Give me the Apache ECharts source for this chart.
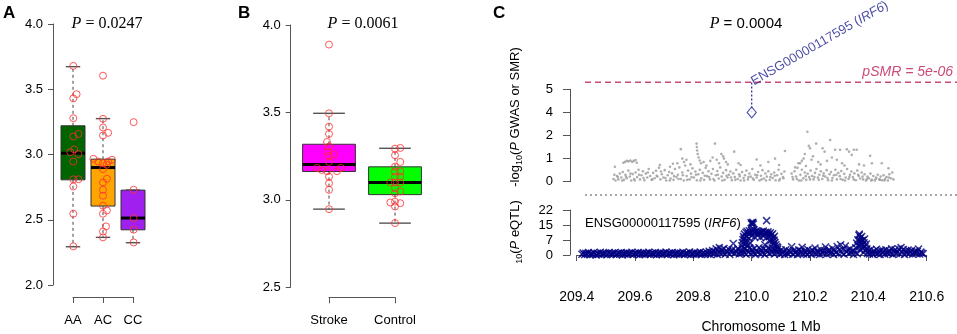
<!DOCTYPE html>
<html>
<head>
<meta charset="utf-8">
<script src="https://cdn.jsdelivr.net/npm/echarts@6/dist/echarts.min.js"></script>
<style>
  html, body { margin: 0; padding: 0; background: #fff; }
  #chart { width: 957px; height: 334px; }
</style>
</head>
<body>
<div id="chart"></div>
<script>
// ---- Panel A: genotype groups ----
const genoCats = ['AA', 'AC', 'CC'];
// [group, min, Q1, median, Q3, max]
const genoBoxes = [
  [1, 2.293, 2.806, 3.010, 3.220, 3.673],
  [2, 2.365, 2.605, 2.900, 2.964, 3.275],
  [3, 2.324, 2.423, 2.513, 2.727, 2.727]
];
const genoColors = ['#006400', '#ffa500', '#a020f0'];
const genoPoints = [
  [1.01, 3.679], [1.12, 3.462], [1.01, 3.430], [1.01, 3.278], [1.18, 3.158], [1.01, 3.138],
  [1.04, 3.040], [0.91, 3.018], [1.18, 3.003], [1.01, 2.946], [1.01, 2.810], [1.18, 2.810],
  [1.01, 2.755], [1.01, 2.546], [1.01, 2.296],
  [2.00, 3.604], [2.00, 3.273], [2.00, 3.207], [2.17, 3.166], [2.00, 3.146], [1.68, 2.967],
  [1.84, 2.946], [2.00, 2.934], [2.17, 2.946], [2.30, 2.960], [2.12, 2.921], [2.00, 2.888],
  [2.13, 2.814], [2.00, 2.786], [2.00, 2.730], [2.00, 2.684], [2.00, 2.607], [2.13, 2.571],
  [2.00, 2.546], [2.10, 2.449], [2.00, 2.410], [2.00, 2.365],
  [3.02, 3.248], [3.02, 2.730], [3.02, 2.513], [3.02, 2.424], [3.02, 2.326]
];
const genoP = '0.0247';

// ---- Panel B: stroke vs control ----
const groupCats = ['Stroke', 'Control'];
const groupBoxes = [
  [1, 2.947, 3.162, 3.202, 3.318, 3.495],
  [2, 2.867, 3.030, 3.099, 3.189, 3.295]
];
const groupColors = ['#ff00ff', '#00ff00'];
const groupPoints = [
  [1.00, 3.888], [1.00, 3.495], [1.00, 3.419], [1.00, 3.377], [0.97, 3.331], [1.00, 3.305],
  [0.98, 3.276], [1.08, 3.259], [1.00, 3.251], [1.00, 3.217], [0.82, 3.183], [0.89, 3.171],
  [1.18, 3.183], [0.97, 3.164], [1.12, 3.164], [1.00, 3.133], [1.00, 3.095], [1.00, 3.057],
  [1.00, 2.947],
  [2.08, 3.297], [2.00, 3.293], [2.00, 3.255], [2.08, 3.217], [2.00, 3.190], [2.00, 3.162],
  [2.08, 3.162], [2.00, 3.133], [2.08, 3.133], [1.93, 3.099], [2.00, 3.099], [2.08, 3.099],
  [2.00, 3.067], [2.08, 3.048], [2.00, 3.038], [2.00, 2.990], [1.93, 2.985], [2.08, 2.981],
  [2.00, 2.962], [2.00, 2.867]
];
const groupP = '0.0061';

// ---- Panel C: SMR locus plot ----
const smrP = '0.0004';
const gwasTicks = ['0', '1', '2', '4', '5'];   // broken axis: 2..4 squeezed into one step
const smrThreshold = 5e-06;
const probeName = 'ENSG00000117595';
const probeGene = 'IRF6';
const probeSmr = [210.0, 4.0];                   // [Mb, -log10 P SMR]
// GWAS -log10 P, [Mb, value]
const gwasPoints = [
  [209.526,0.12],[209.531,0.65],[209.533,0.05],[209.538,0.25],[209.543,0.10],[209.548,0.35],[209.553,0.18],
  [209.558,0.42],[209.562,0.08],[209.567,0.30],[209.572,0.15],[209.577,0.48],[209.582,0.22],[209.587,0.05],
  [209.592,0.33],[209.597,0.12],[209.602,0.40],[209.607,0.20],[209.612,0.52],[209.617,0.10],[209.622,0.28],
  [209.627,0.45],[209.632,0.06],[209.637,0.35],[209.642,0.18],[209.647,0.55],[209.652,0.25],[209.657,0.08],
  [209.662,0.38],[209.667,0.15],[209.672,0.47],[209.677,0.22],[209.682,0.60],[209.687,0.10],[209.692,0.32],
  [209.697,0.18],[209.702,0.50],[209.707,0.05],[209.712,0.28],[209.717,0.42],[209.722,0.14],[209.727,0.36],
  [209.732,0.08],[209.737,0.55],[209.742,0.20],[209.747,0.30],[209.752,0.62],[209.757,0.12],[209.762,0.40],
  [209.767,0.05],[209.772,0.70],[209.777,0.25],[209.782,0.48],[209.787,0.10],[209.792,0.35],[209.797,0.58],
  [209.802,0.18],[209.807,0.44],[209.812,0.06],[209.817,0.32],[209.822,0.52],[209.827,0.15],[209.832,0.38],
  [209.837,0.08],[209.842,0.60],[209.847,0.24],[209.852,0.45],[209.857,0.10],[209.862,0.34],[209.867,0.55],
  [209.872,0.05],[209.877,0.28],[209.882,0.46],[209.887,0.14],[209.892,0.62],[209.897,0.22],[209.902,0.38],
  [209.907,0.08],[209.912,0.50],[209.917,0.18],[209.922,0.30],[209.927,0.44],[209.932,0.06],[209.937,0.36],
  [209.942,0.20],[209.947,0.52],[209.952,0.12],[209.957,0.32],[209.962,0.05],[209.967,0.42],[209.972,0.16],
  [209.977,0.28],[209.982,0.48],[209.987,0.10],[209.992,0.35],[209.997,0.22],[210.002,0.55],[210.007,0.08],
  [210.012,0.30],[210.017,0.18],[210.022,0.42],[210.027,0.05],[210.032,0.26],[210.037,0.50],[210.042,0.14],
  [210.047,0.36],[210.052,0.22],[210.057,0.45],[210.062,0.08],[210.067,0.32],[210.072,0.16],[210.077,0.40],
  [210.082,0.06],[210.087,0.28],[210.092,0.52],[210.097,0.12],[210.102,0.34],[210.107,0.20],[210.112,0.44],
  [210.137,0.35],[210.142,0.10],[210.147,0.45],[210.152,0.22],[210.157,0.60],[210.162,0.05],[210.167,0.30],
  [210.172,0.52],[210.177,0.15],[210.182,0.40],[210.187,0.08],[210.192,0.34],[210.197,0.20],[210.202,0.48],
  [210.207,0.25],[210.212,0.10],[210.217,0.38],[210.222,0.55],[210.227,0.18],[210.232,0.30],[210.237,0.45],
  [210.242,0.12],[210.247,0.36],[210.252,0.22],[210.257,0.50],[210.262,0.06],[210.267,0.32],[210.272,0.42],
  [210.277,0.16],[210.282,0.28],[210.287,0.52],[210.292,0.10],[210.297,0.38],[210.302,0.24],[210.307,0.46],
  [210.312,0.08],[210.317,0.34],[210.322,0.18],[210.327,0.55],[210.332,0.12],[210.337,0.30],[210.342,0.44],
  [210.347,0.20],[210.352,0.36],[210.357,0.06],[210.362,0.48],[210.367,0.25],[210.372,0.14],[210.377,0.40],
  [210.382,0.10],[210.387,0.32],[210.392,0.05],[210.397,0.22],[210.402,0.15],[210.407,0.35],[210.412,0.08],
  [210.417,0.25],[210.422,0.05],[210.427,0.18],[210.432,0.30],[210.437,0.10],[210.442,0.22],[210.447,0.06],
  [210.452,0.28],[210.457,0.12],[210.462,0.20],[210.467,0.05],[210.472,0.32],[210.477,0.15],[210.482,0.40],
  [210.486,0.10],
  [209.529,0.30],[209.541,0.20],[209.556,0.05],[209.569,0.22],[209.584,0.35],[209.599,0.05],[209.614,0.30],
  [209.629,0.16],[209.644,0.40],[209.659,0.10],[209.674,0.26],[209.689,0.44],[209.704,0.16],[209.719,0.05],
  [209.734,0.24],[209.749,0.12],[209.764,0.28],[209.779,0.08],[209.794,0.20],[209.809,0.30],[209.824,0.05],
  [209.839,0.26],[209.854,0.20],[209.869,0.12],[209.884,0.30],[209.899,0.05],[209.914,0.26],[209.929,0.18],
  [209.944,0.08],[209.959,0.24],[209.974,0.05],[209.989,0.20],[210.004,0.14],[210.019,0.28],[210.034,0.10],
  [210.049,0.05],[210.064,0.20],[210.079,0.26],[210.094,0.05],[210.109,0.15],[210.140,0.20],[210.155,0.12],
  [210.170,0.05],[210.185,0.24],[210.200,0.10],[210.215,0.20],[210.230,0.08],[210.245,0.26],[210.260,0.16],
  [210.275,0.05],[210.290,0.30],[210.305,0.12],[210.320,0.05],[210.335,0.20],[210.350,0.10],[210.365,0.30],
  [210.380,0.22],[210.395,0.12],[210.410,0.05],[210.425,0.12],[210.440,0.08],[210.455,0.05],[210.470,0.18],
  [209.560,0.82],[209.566,0.86],[209.572,0.90],[209.578,0.88],[209.584,0.92],[209.590,0.86],[209.596,0.90],
  [209.602,0.94],[209.606,0.82],[209.685,0.72],[209.720,0.65],[209.730,0.78],[209.745,0.80],[209.757,1.41],
  [209.762,1.00],[209.768,0.85],[209.776,0.95],[209.790,0.75],[209.811,1.65],[209.812,1.50],[209.813,1.35],
  [209.815,1.20],[209.818,1.05],[209.822,0.92],[209.826,0.80],[209.835,0.85],[209.845,0.70],[209.858,0.90],
  [209.866,1.05],[209.874,1.65],[209.880,0.95],[209.888,0.80],[209.896,1.20],[209.902,1.10],[209.905,1.00],
  [209.912,0.85],[209.918,0.75],[209.940,1.30],[209.955,0.80],[209.962,0.72],[210.017,0.96],[210.030,0.70],
  [210.057,0.85],[210.080,1.00],[210.094,0.72],[210.114,1.33],[210.149,0.62],[210.160,0.80],[210.166,0.80],
  [210.172,0.90],[210.178,1.00],[210.182,1.20],[210.186,0.68],[210.191,2.32],[210.196,1.55],[210.200,1.45],
  [210.205,0.95],[210.210,1.10],[210.221,1.65],[210.228,0.85],[210.236,0.75],[210.243,1.45],[210.250,1.30],
  [210.258,0.90],[210.269,1.80],[210.275,1.05],[210.286,1.38],[210.292,0.95],[210.303,1.38],[210.310,0.80],
  [210.318,0.70],[210.326,1.40],[210.334,1.30],[210.343,1.16],[210.350,1.38],[210.360,1.38],[210.368,0.75],
  [210.385,0.70],[210.406,1.12],[210.412,0.80],[210.446,0.80],[210.469,0.58]
];
const eqtlTickMax = 22;
// eQTL -log10 P, [Mb, value]
const eqtlPoints = [
  [209.418,0.4],[209.422,1.0],[209.427,0.2],[209.431,0.8],[209.436,0.5],[209.440,1.2],[209.445,0.1],[209.449,0.7],
  [209.454,0.3],[209.458,1.1],[209.463,0.6],[209.467,0.0],[209.472,0.9],[209.476,0.4],[209.481,1.3],[209.485,0.2],
  [209.490,0.8],[209.494,0.5],[209.499,1.0],[209.503,0.1],[209.508,0.7],[209.512,1.2],[209.517,0.3],[209.521,0.9],
  [209.526,0.5],[209.530,1.1],[209.535,0.2],[209.539,0.6],[209.544,1.0],[209.548,0.4],[209.553,1.2],[209.557,0.0],
  [209.562,0.8],[209.566,0.5],[209.571,1.1],[209.575,0.3],[209.580,0.9],[209.584,0.6],[209.589,1.3],[209.593,0.2],
  [209.598,0.7],[209.602,1.0],[209.607,0.4],[209.611,1.2],[209.616,0.1],[209.620,0.8],[209.625,0.5],[209.629,1.1],
  [209.634,0.3],[209.638,0.9],[209.643,0.6],[209.647,1.3],[209.652,0.2],[209.656,0.7],[209.661,1.0],[209.665,0.4],
  [209.670,1.2],[209.674,0.1],[209.679,0.8],[209.683,0.5],[209.688,1.1],[209.692,0.3],[209.697,0.9],[209.701,0.6],
  [209.706,1.4],[209.710,0.2],[209.715,0.7],[209.719,1.0],[209.724,0.4],[209.728,1.2],[209.733,0.1],[209.737,0.8],
  [209.742,0.5],[209.746,1.1],[209.751,0.3],[209.755,0.9],[209.760,0.6],[209.764,1.3],[209.769,0.2],[209.773,0.7],
  [209.778,1.0],[209.782,0.4],[209.787,1.5],[209.791,0.1],[209.796,0.8],[209.800,0.5],[209.805,1.2],[209.809,0.3],
  [209.814,0.9],[209.818,0.6],[209.823,1.4],[209.827,0.2],[209.832,0.7],[209.836,1.1],[209.841,0.4],[209.845,1.3],
  [209.850,0.5],[209.854,1.8],[209.858,0.2],[209.862,1.2],[209.866,2.2],[209.870,0.6],[209.874,1.5],[209.878,3.0],
  [209.882,0.3],[209.886,1.9],[209.889,3.6],[209.893,0.8],[209.897,2.4],[209.901,1.1],[209.905,3.2],[209.909,0.4],
  [209.913,2.0],[209.917,1.4],[209.921,2.8],[209.925,0.2],[209.929,1.7],[209.933,2.5],[209.937,5.6],[209.941,0.9],
  [209.945,2.1],[209.949,1.3],[209.953,3.0],[209.957,0.5],[209.961,1.8],
  [209.965,0.8],[209.969,2.5],[209.973,1.2],[209.977,3.0],[209.981,0.4],[209.985,2.2],[209.989,1.5],[209.993,3.4],
  [209.997,0.7],[210.001,2.6],[210.005,1.1],[210.009,3.2],[210.013,0.3],[210.017,2.0],[210.021,1.4],[210.025,3.5],
  [210.029,0.6],[210.033,2.4],[210.037,1.0],[210.041,3.1],[210.045,0.2],[210.049,2.2],[210.053,1.6],[210.057,3.4],
  [210.061,0.8],[210.065,2.7],[210.069,1.3],[210.073,3.0],[210.077,0.5],[210.081,2.3],[210.085,1.2],[210.089,2.8],
  [209.966,4.5],[209.968,6.0],[209.970,7.5],[209.972,9.0],[209.975,10.2],[209.978,5.2],[209.974,8.2],[209.980,11.0],
  [209.984,11.6],[209.988,10.6],[209.992,11.9],[209.996,10.9],[210.000,12.0],[210.004,11.2],[210.008,12.3],[210.012,11.0],
  [210.016,11.8],[210.020,10.8],[210.024,11.6],[210.028,10.5],[210.032,11.4],[210.036,10.9],[210.040,11.7],[210.044,10.4],
  [210.048,11.1],[210.052,10.6],[210.056,11.3],[210.060,10.2],[210.064,10.9],[210.068,9.8],[210.072,10.4],
  [209.984,9.0],[209.990,8.2],[210.000,9.3],[210.010,8.8],[210.020,9.5],[210.030,8.6],[210.040,9.2],[210.050,8.4],
  [210.060,8.9],[210.068,7.5],[210.074,8.6],[210.077,7.2],[210.080,6.0],[210.083,5.0],[210.086,4.2],[210.089,3.6],
  [210.078,9.2],[209.978,7.0],[209.982,6.0],[209.986,4.6],[210.070,6.4],[210.074,5.2],[210.062,6.8],[209.995,5.8],
  [210.045,5.0],[210.000,15.0],[210.004,16.0],[210.002,15.5],[209.998,15.8],[210.006,15.2],[210.051,16.8],
  [210.093,1.5],[210.097,0.3],[210.101,2.4],[210.105,0.9],[210.109,1.8],[210.113,0.2],[210.117,2.6],[210.121,1.1],
  [210.125,0.5],[210.129,2.0],[210.133,1.3],[210.137,4.0],[210.141,0.4],[210.145,2.2],[210.149,1.0],[210.153,1.7],
  [210.157,0.2],[210.161,2.5],[210.165,0.8],[210.169,1.9],[210.173,3.8],[210.177,0.5],[210.181,2.1],[210.185,1.2],
  [210.189,0.3],[210.193,2.7],[210.197,1.0],[210.201,1.8],[210.205,0.4],[210.209,2.3],[210.213,1.3],[210.217,3.4],
  [210.221,0.6],[210.225,2.0],[210.229,1.1],[210.233,0.2],[210.237,2.6],[210.241,1.5],[210.245,0.8],[210.249,2.2],
  [210.253,3.9],[210.257,0.4],[210.261,1.7],[210.265,2.5],[210.269,0.9],[210.273,1.4],[210.277,3.2],[210.281,0.3],
  [210.285,2.1],[210.289,1.2],[210.293,4.2],[210.297,0.6],[210.301,2.4],[210.305,5.0],[210.309,1.0],[210.313,2.8],
  [210.317,0.4],[210.321,4.4],[210.325,1.6],[210.329,2.3],[210.333,0.7],[210.337,3.0],[210.341,1.3],[210.345,2.0],
  [210.349,0.2],
  [210.353,1.8],[210.357,3.5],[210.360,5.8],[210.362,0.6],[210.364,7.4],[210.366,4.4],[210.368,9.6],[210.370,6.6],
  [210.371,2.5],[210.373,8.4],[210.375,5.3],[210.377,9.0],[210.379,3.4],[210.381,7.2],[210.383,1.2],[210.385,6.0],
  [210.387,7.8],[210.389,4.0],[210.391,2.2],[210.393,5.4],[210.395,3.0],[210.397,0.8],[210.369,10.2],[210.375,7.0],
  [210.380,5.0],
  [210.400,1.9],[210.404,0.5],[210.408,2.6],[210.412,1.2],[210.416,0.3],[210.420,2.0],[210.424,1.0],[210.428,2.8],
  [210.432,0.6],[210.436,1.7],[210.440,0.2],[210.444,2.3],[210.448,1.1],[210.452,1.9],[210.456,0.4],[210.460,2.5],
  [210.464,1.3],[210.468,0.7],[210.472,2.1],[210.476,1.0],[210.480,3.0],[210.484,0.3],[210.488,1.8],[210.492,2.6],
  [210.496,0.8],[210.500,1.5],[210.504,2.9],[210.508,0.5],[210.512,3.6],[210.516,1.4],[210.520,2.7],[210.524,0.2],
  [210.528,1.9],[210.532,1.0],[210.536,2.4],[210.540,0.6],[210.544,1.6],[210.548,2.2],[210.552,0.4],[210.556,1.3],
  [210.560,2.0],[210.564,0.8],[210.568,1.7],[210.572,2.9],[210.576,0.5],[210.580,1.4],[210.584,0.9],[210.588,0.6]
];

const SANS = '"Liberation Sans", Arial, sans-serif';
const SERIF = '"Liberation Serif", "Times New Roman", serif';
const AXIS_GREY = '#555';
const NAVY = '#000080';
const SMR_PINK = '#cc4a7a';

// the GWAS axis labels 0,1,2,4,5 sit on even steps, so 2..4 is squeezed into one step
function gwasPos(v) {
  if (v <= 2) return v;
  if (v <= 4) return 2 + (v - 2) / 2;
  return v - 1;
}

// R-style box: dashed whiskers, staples, filled box and a thick median
function renderBox(params, api) {
  const x = api.value(0);
  const lo = api.coord([x, api.value(1)]);
  const q1 = api.coord([x, api.value(2)]);
  const md = api.coord([x, api.value(3)]);
  const q3 = api.coord([x, api.value(4)]);
  const hi = api.coord([x, api.value(5)]);
  const w = api.size([0.8, 0])[0];
  const cx = lo[0];
  const s = w * 0.3;
  const dash = { stroke: '#444', lineWidth: 1, lineDash: [3, 3] };
  const staple = { stroke: '#555', lineWidth: 1.4 };
  return {
    type: 'group',
    children: [
      { type: 'line', shape: { x1: cx, y1: q3[1], x2: cx, y2: hi[1] }, style: dash },
      { type: 'line', shape: { x1: cx, y1: q1[1], x2: cx, y2: lo[1] }, style: dash },
      { type: 'line', shape: { x1: cx - s, y1: hi[1], x2: cx + s, y2: hi[1] }, style: staple },
      { type: 'line', shape: { x1: cx - s, y1: lo[1], x2: cx + s, y2: lo[1] }, style: staple },
      { type: 'rect', shape: { x: cx - w / 2, y: q3[1], width: w, height: q1[1] - q3[1] },
        style: { fill: api.visual('color'), stroke: '#333', lineWidth: 1 } },
      { type: 'line', shape: { x1: cx - w / 2, y1: md[1], x2: cx + w / 2, y2: md[1] },
        style: { stroke: '#000', lineWidth: 3 } }
    ]
  };
}

function boxSeries(boxes, colors, axisIdx) {
  return {
    type: 'custom',
    xAxisIndex: axisIdx, yAxisIndex: axisIdx,
    renderItem: renderBox,
    encode: { x: 0, y: [1, 2, 3, 4, 5] },
    data: boxes.map((b, i) => ({ value: b, itemStyle: { color: colors[i] } })),
    z: 2
  };
}

function pointSeries(points, axisIdx) {
  return {
    type: 'scatter',
    xAxisIndex: axisIdx, yAxisIndex: axisIdx,
    data: points,
    symbol: 'circle',
    symbolSize: 7,
    clip: false,
    itemStyle: { color: 'rgba(0,0,0,0)', borderColor: '#ff3030', borderWidth: 1 },
    z: 3
  };
}

function baseAxis(extra) {
  return Object.assign({
    type: 'value',
    axisLine: { show: true, lineStyle: { color: AXIS_GREY, width: 1 } },
    axisTick: { show: true, inside: false, length: 5, lineStyle: { color: AXIS_GREY } },
    axisLabel: { color: '#000', fontSize: 13, fontFamily: SANS },
    splitLine: { show: false }
  }, extra);
}

const chart = echarts.init(document.getElementById('chart'), null, { renderer: 'canvas' });

const thresholdPos = gwasPos(-Math.log10(smrThreshold));
const probePos = gwasPos(probeSmr[1]);
const smrLabel = 'pSMR = ' + smrThreshold.toExponential(0).replace(/e-(\d)$/, 'e-0$1');

// top C grid is wider than the axis (dashed lines run to the edge); keep the same Mb scale
const cAxisLeft = 576.7, cAxisWidth = 350, cMin = 209.4, cMax = 210.6;
const mbPerPx = (cMax - cMin) / cAxisWidth;
const topLeft = 585;
const topMin = cMin + (topLeft - cAxisLeft) * mbPerPx;
const topMax = cMin + (957 - cAxisLeft) * mbPerPx;

const option = {
  backgroundColor: '#fff',
  animation: false,
  textStyle: { fontFamily: SANS },
  grid: [
    { left: 73, top: 24, width: 60, height: 261, outerBoundsMode: 'none' },
    { left: 329, top: 25, width: 66, height: 262.3, outerBoundsMode: 'none' },
    { left: topLeft, top: 89.3, width: 957 - topLeft, height: 92.4, outerBoundsMode: 'none' },
    { left: cAxisLeft, top: 210, width: cAxisWidth, height: 45, outerBoundsMode: 'none' }
  ],
  xAxis: [
    baseAxis({ gridIndex: 0, min: 1, max: 3, interval: 1, offset: 12,
      axisTick: { show: true, length: 6, lineStyle: { color: AXIS_GREY } },
      axisLabel: { color: '#000', fontSize: 13, fontFamily: SANS, margin: 17,
        formatter: v => genoCats[Math.round(v) - 1] || '' } }),
    baseAxis({ gridIndex: 1, min: 1, max: 2, interval: 1, offset: 10,
      axisTick: { show: true, length: 6, lineStyle: { color: AXIS_GREY } },
      axisLabel: { color: '#000', fontSize: 13, fontFamily: SANS, margin: 17,
        formatter: v => groupCats[Math.round(v) - 1] || '' } }),
    { type: 'value', gridIndex: 2, show: false, min: topMin, max: topMax },
    baseAxis({ gridIndex: 3, min: cMin, max: cMax, interval: 0.2, offset: 16.7,
      axisTick: { show: true, length: 6, lineStyle: { color: AXIS_GREY } },
      axisLabel: { color: '#000', fontSize: 14, fontFamily: SANS, margin: 18,
        formatter: v => v.toFixed(1) } })
  ],
  yAxis: [
    baseAxis({ gridIndex: 0, min: 2, max: 4, interval: 0.5, offset: 20,
      axisLabel: { color: '#000', fontSize: 13, fontFamily: SANS, margin: 10, formatter: v => v.toFixed(1) } }),
    baseAxis({ gridIndex: 1, min: 2.5, max: 4, interval: 0.5, offset: 38.3,
      axisLabel: { color: '#000', fontSize: 13, fontFamily: SANS, margin: 10, formatter: v => v.toFixed(1) } }),
    baseAxis({ gridIndex: 2, min: 0, max: 4, interval: 1, offset: 15,
      axisTick: { show: true, length: 7, lineStyle: { color: AXIS_GREY } },
      axisLabel: { color: '#000', fontSize: 13, fontFamily: SANS, margin: 17,
        formatter: v => gwasTicks[Math.round(v)] } }),
    baseAxis({ gridIndex: 3, min: 0, max: eqtlTickMax, interval: eqtlTickMax / 3, offset: cAxisLeft - 570,
      axisTick: { show: true, length: 7, lineStyle: { color: AXIS_GREY } },
      axisLabel: { color: '#000', fontSize: 13, fontFamily: SANS, margin: 17,
        formatter: v => String(Math.round(v)) } })
  ],
  series: [
    boxSeries(genoBoxes, genoColors, 0),
    pointSeries(genoPoints, 0),
    boxSeries(groupBoxes, groupColors, 1),
    pointSeries(groupPoints, 1),
    {
      type: 'scatter', xAxisIndex: 2, yAxisIndex: 2,
      data: gwasPoints.map(p => [p[0], gwasPos(p[1])]),
      symbol: 'circle', symbolSize: 2.6,
      itemStyle: { color: '#9a9a9a' },
      clip: false
    },
    {
      // SMR significance threshold
      type: 'line', xAxisIndex: 2, yAxisIndex: 2,
      data: [[topMin, thresholdPos], [topMax, thresholdPos]],
      symbol: 'none', clip: false, silent: true,
      lineStyle: { color: SMR_PINK, width: 1.5, type: [6, 4] },
      endLabel: {
        show: true, formatter: smrLabel, align: 'right', verticalAlign: 'bottom',
        distance: 0, offset: [-4, -3],
        fontStyle: 'italic', fontSize: 14, color: SMR_PINK, fontFamily: SANS
      },
      z: 3
    },
    {
      type: 'line', xAxisIndex: 2, yAxisIndex: 2,
      data: [[probeSmr[0], probePos], [probeSmr[0], thresholdPos]],
      symbol: 'none', clip: false,
      lineStyle: { color: '#22229a', width: 1.2, type: [2, 2] },
      z: 4
    },
    {
      type: 'scatter', xAxisIndex: 2, yAxisIndex: 2,
      data: [[probeSmr[0], probePos]],
      symbol: 'diamond', symbolSize: [9, 11], clip: false,
      itemStyle: { color: '#fff', borderColor: '#22229a', borderWidth: 1.2 },
      z: 5
    },
    {
      type: 'scatter', xAxisIndex: 2, yAxisIndex: 2,
      data: [[probeSmr[0], thresholdPos]],
      symbolSize: 1, clip: false,
      itemStyle: { color: 'rgba(0,0,0,0)' },
      label: {
        show: true, position: 'right', distance: 0, rotate: 30,
        formatter: probeName + ' ({i|' + probeGene + '})',
        color: '#1a1a8c', fontSize: 13, fontFamily: SANS,
        rich: { i: { fontStyle: 'italic', color: '#1a1a8c', fontSize: 13, fontFamily: SANS } }
      },
      z: 5
    },
    {
      type: 'scatter', xAxisIndex: 3, yAxisIndex: 3,
      data: eqtlPoints,
      symbol: 'path://M0,0L10,10M0,10L10,0', symbolSize: 7,
      itemStyle: { color: NAVY, borderColor: NAVY, borderWidth: 1.5 },
      clip: false
    }
  ],
  graphic: {
    elements: [
      { type: 'text', x: 3, y: 5, style: { text: 'A', font: 'bold 17px ' + SANS, fill: '#000' } },
      { type: 'text', x: 238, y: 5, style: { text: 'B', font: 'bold 17px ' + SANS, fill: '#000' } },
      { type: 'text', x: 493, y: 5, style: { text: 'C', font: 'bold 17px ' + SANS, fill: '#000' } },
      { type: 'text', x: 107, y: 24, style: {
          text: '{i|P} = ' + genoP, fontSize: 16, fontFamily: SERIF, fill: '#000',
          align: 'center', verticalAlign: 'middle', textAlign: 'center', textVerticalAlign: 'middle',
          rich: { i: { fontStyle: 'italic', fontSize: 16, fontFamily: SERIF } } } },
      { type: 'text', x: 363, y: 24, style: {
          text: '{i|P} = ' + groupP, fontSize: 16, fontFamily: SERIF, fill: '#000',
          align: 'center', verticalAlign: 'middle', textAlign: 'center', textVerticalAlign: 'middle',
          rich: { i: { fontStyle: 'italic', fontSize: 16, fontFamily: SERIF } } } },
      { type: 'text', x: 746, y: 24, style: {
          text: '{i|P} = ' + smrP, fontSize: 15, fontFamily: SANS, fill: '#000',
          align: 'center', verticalAlign: 'middle', textAlign: 'center', textVerticalAlign: 'middle',
          rich: { i: { fontStyle: 'italic', fontSize: 16, fontFamily: SERIF } } } },
      { type: 'text', x: 515, y: 117, rotation: Math.PI / 2, style: {
          text: '-log{s|10}({i|P} GWAS or SMR)', fontSize: 13, fontFamily: SANS, fill: '#000',
          align: 'center', verticalAlign: 'middle', textAlign: 'center', textVerticalAlign: 'middle',
          rich: { s: { fontSize: 9, verticalAlign: 'bottom', lineHeight: 18 },
                  i: { fontStyle: 'italic', fontSize: 13 } } } },
      { type: 'text', x: 515, y: 232, rotation: Math.PI / 2, style: {
          text: '{s|10}({i|P} eQTL)', fontSize: 13, fontFamily: SANS, fill: '#000',
          align: 'center', verticalAlign: 'middle', textAlign: 'center', textVerticalAlign: 'middle',
          rich: { s: { fontSize: 9, verticalAlign: 'bottom', lineHeight: 18 },
                  i: { fontStyle: 'italic', fontSize: 13 } } } },
      { type: 'text', x: 585, y: 223, style: {
          text: probeName + ' ({i|' + probeGene + '})', fontSize: 13, fontFamily: SANS, fill: '#000',
          align: 'left', verticalAlign: 'middle', textAlign: 'left', textVerticalAlign: 'middle',
          rich: { i: { fontStyle: 'italic', fontSize: 13 } } } },
      { type: 'text', x: 761, y: 327, style: {
          text: 'Chromosome 1 Mb', fontSize: 14, fontFamily: SANS, fill: '#000',
          align: 'center', verticalAlign: 'middle', textAlign: 'center', textVerticalAlign: 'middle' } },
      { type: 'line', shape: { x1: topLeft, y1: 195, x2: 957, y2: 195 },
        style: { stroke: '#888', lineWidth: 1.5, lineDash: [2, 3] } }
    ]
  }
};

chart.setOption(option);
window.addEventListener('resize', () => chart.resize());
</script>
</body>
</html>
